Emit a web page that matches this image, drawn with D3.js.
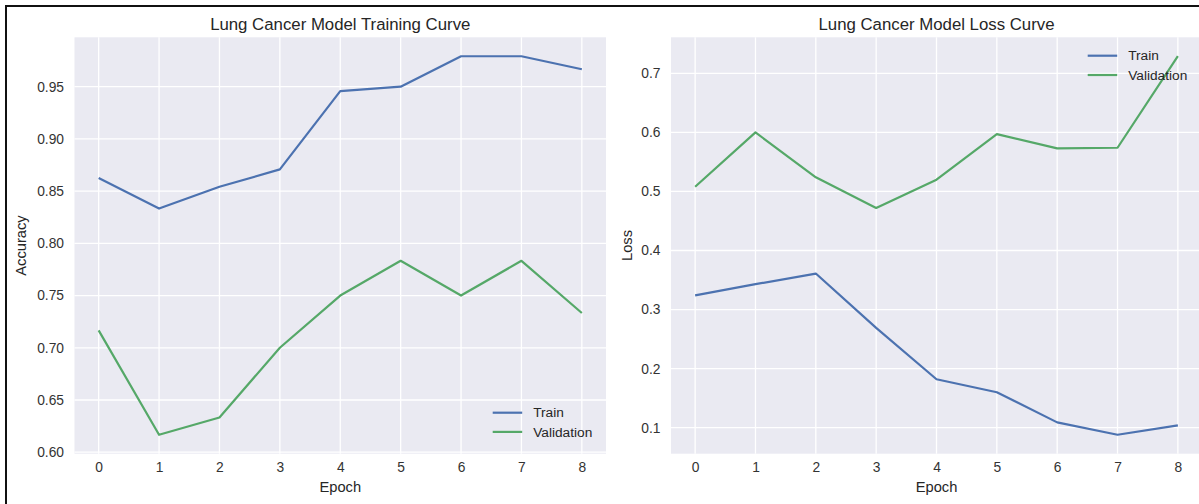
<!DOCTYPE html>
<html>
<head>
<meta charset="utf-8">
<script src="https://cdn.jsdelivr.net/npm/d3@7"></script>
<style>
  html, body { margin: 0; padding: 0; background: #fff; }
  svg { display: block; font-family: "Liberation Sans", Arial, sans-serif; }
</style>
</head>
<body>
<svg id="chart" width="1199" height="504"></svg>
<script>
// ---- data ----
const epochs = [0, 1, 2, 3, 4, 5, 6, 7, 8];
const accTrain = [0.8625, 0.8333, 0.8542, 0.8708, 0.9458, 0.9500, 0.9792, 0.9792, 0.9667];
const accVal   = [0.7167, 0.6167, 0.6333, 0.7000, 0.7500, 0.7833, 0.7500, 0.7833, 0.7333];
const lossTrain = [0.324, 0.343, 0.361, 0.269, 0.182, 0.160, 0.109, 0.088, 0.104];
const lossVal   = [0.508, 0.600, 0.524, 0.472, 0.520, 0.597, 0.573, 0.574, 0.729];
const accTicks = [0.60, 0.65, 0.70, 0.75, 0.80, 0.85, 0.90, 0.95];
const lossTicks = [0.1, 0.2, 0.3, 0.4, 0.5, 0.6, 0.7];
const seriesNames = ["Train", "Validation"];
const seriesColors = ["#4C72B0", "#55A868"];

const svg = d3.select("#chart");

// figure border
svg.append("rect").attr("x", 6).attr("y", 6).attr("width", 1300).attr("height", 600)
  .attr("fill", "none").attr("stroke", "#111").attr("stroke-width", 2);

function panel(opts) {
  const { left, right, top, bottom, title, ylabel, trainVals, valVals, yTicks, yFmt, legend, ylabelX } = opts;
  const all = trainVals.concat(valVals);
  const ymin = d3.min(all), ymax = d3.max(all), m = (ymax - ymin) * 0.05;
  const x = d3.scaleLinear().domain([-0.4, 8.4]).range([left, right]);
  const y = d3.scaleLinear().domain([ymin - m, ymax + m]).range([bottom, top]);

  const g = svg.append("g");
  g.append("rect").attr("x", left).attr("y", top).attr("width", right - left).attr("height", bottom - top)
    .attr("fill", "#EAEAF2");

  // grid
  g.selectAll(".vg").data(epochs).join("line")
    .attr("x1", d => x(d)).attr("x2", d => x(d)).attr("y1", top).attr("y2", bottom)
    .attr("stroke", "#fff").attr("stroke-width", 1.3);
  g.selectAll(".hg").data(yTicks).join("line")
    .attr("x1", left).attr("x2", right).attr("y1", d => y(d)).attr("y2", d => y(d))
    .attr("stroke", "#fff").attr("stroke-width", 1.3);

  // axes (tick labels via d3 axes, no domain / tick lines)
  const xa = g.append("g").attr("transform", `translate(0,${bottom})`)
    .call(d3.axisBottom(x).tickValues(epochs).tickFormat(d3.format("d")).tickSize(0).tickPadding(8.8));
  const ya = g.append("g").attr("transform", `translate(${left},0)`)
    .call(d3.axisLeft(y).tickValues(yTicks).tickFormat(d3.format(yFmt)).tickSize(0).tickPadding(10.5));
  [xa, ya].forEach(a => {
    a.select(".domain").remove();
    a.selectAll("text").attr("fill", "#333").style("font-size", "13.8px").style("font-family", "Liberation Sans, Arial, sans-serif");
  });

  // lines
  const line = d3.line().x((d, i) => x(epochs[i])).y(d => y(d));
  [trainVals, valVals].forEach((vals, k) => {
    g.append("path").datum(vals).attr("d", line).attr("fill", "none")
      .attr("stroke", seriesColors[k]).attr("stroke-width", 2.2)
      .attr("stroke-linejoin", "round").attr("stroke-linecap", "butt");
  });

  // title
  g.append("text").attr("x", (left + right) / 2).attr("y", 29.5).attr("text-anchor", "middle")
    .attr("fill", "#262626").style("font-size", "16.8px").text(title);
  // x label
  g.append("text").attr("x", (left + right) / 2).attr("y", 491.5).attr("text-anchor", "middle")
    .attr("fill", "#262626").style("font-size", "14.7px").text("Epoch");
  // y label
  g.append("text").attr("transform", `translate(${ylabelX},${(top + bottom) / 2}) rotate(-90)`)
    .attr("text-anchor", "middle").attr("fill", "#262626").style("font-size", "14.7px").text(ylabel);

  // legend
  const lg = g.append("g");
  seriesNames.forEach((name, k) => {
    const yy = legend.y + k * legend.dy;
    lg.append("line").attr("x1", legend.x).attr("x2", legend.x + 29.5).attr("y1", yy).attr("y2", yy)
      .attr("stroke", seriesColors[k]).attr("stroke-width", 2.2);
    lg.append("text").attr("x", legend.x + 40.5).attr("y", yy).attr("dy", "0.35em")
      .attr("fill", "#262626").style("font-size", "13.7px").text(name);
  });
}

panel({
  left: 74.5, right: 606, top: 37.3, bottom: 453.7,
  title: "Lung Cancer Model Training Curve", ylabel: "Accuracy",
  trainVals: accTrain, valVals: accVal, yTicks: accTicks, yFmt: ".2f",
  legend: { x: 492.7, y: 412.7, dy: 19.2 }, ylabelX: 26
});
panel({
  left: 671, right: 1202, top: 37.3, bottom: 453.7,
  title: "Lung Cancer Model Loss Curve", ylabel: "Loss",
  trainVals: lossTrain, valVals: lossVal, yTicks: lossTicks, yFmt: ".1f",
  legend: { x: 1087.7, y: 55.7, dy: 19.3 }, ylabelX: 632
});
</script>
</body>
</html>
